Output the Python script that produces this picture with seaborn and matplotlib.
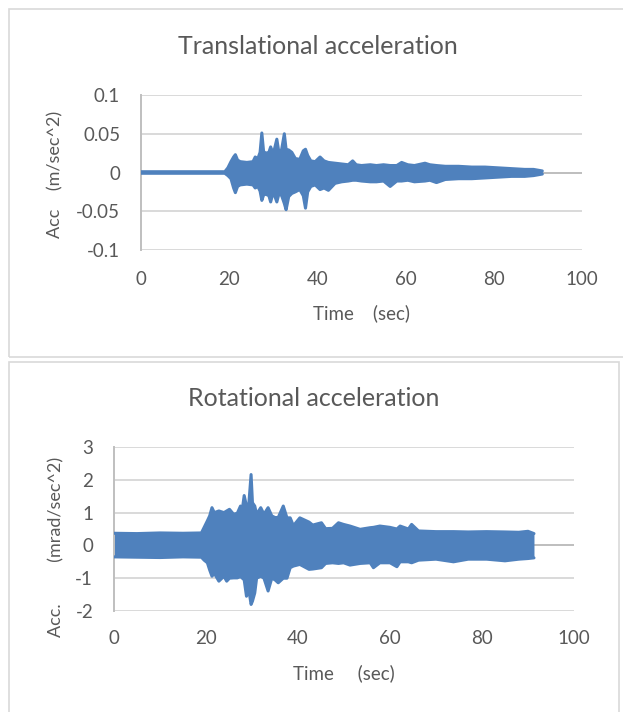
import matplotlib
matplotlib.use("Agg")
import matplotlib.pyplot as plt
import seaborn as sns
from matplotlib.patches import Rectangle

# Envelope of the translational record (m/sec^2)
t_trans = [0, 19.0, 19.7, 20.4, 21.0, 21.4, 21.9, 22.5, 24.0, 25.4, 25.9, 26.5, 27.0, 27.4, 27.8,
           28.3, 29.0, 29.4, 30.0, 30.8, 31.3, 31.9, 32.5, 32.9, 33.5, 34.2, 35.0, 36.0, 36.8,
           37.3, 37.8, 38.5, 39.5, 40.6, 41.5, 42.5, 44.0, 45.5, 47.0, 48.0, 48.8, 50, 52, 53.4,
           55, 56.5, 58, 59.1, 60.5, 62, 64.4, 65.5, 67, 69, 72, 75, 78, 81, 84, 87, 89, 91]
up_trans = [0.001, 0.001, 0.006, 0.014, 0.020, 0.023, 0.016, 0.014, 0.013, 0.014, 0.020, 0.018,
            0.026, 0.051, 0.027, 0.025, 0.026, 0.033, 0.024, 0.043, 0.025, 0.030, 0.050, 0.030,
            0.029, 0.026, 0.018, 0.017, 0.028, 0.030, 0.022, 0.015, 0.014, 0.020, 0.015, 0.013,
            0.012, 0.011, 0.010, 0.015, 0.010, 0.009, 0.010, 0.009, 0.010, 0.009, 0.009, 0.013,
            0.010, 0.009, 0.012, 0.010, 0.009, 0.008, 0.008, 0.007, 0.007, 0.006, 0.005, 0.004,
            0.004, 0.002]
lo_trans = [-0.001, -0.001, -0.004, -0.008, -0.020, -0.026, -0.018, -0.016, -0.015, -0.016,
            -0.020, -0.018, -0.024, -0.036, -0.029, -0.028, -0.030, -0.038, -0.025, -0.038,
            -0.027, -0.030, -0.040, -0.048, -0.031, -0.027, -0.025, -0.022, -0.030, -0.046,
            -0.025, -0.018, -0.016, -0.022, -0.020, -0.023, -0.014, -0.012, -0.011, -0.010,
            -0.010, -0.011, -0.012, -0.012, -0.011, -0.018, -0.011, -0.011, -0.010, -0.012,
            -0.011, -0.010, -0.013, -0.009, -0.008, -0.008, -0.007, -0.006, -0.005, -0.005,
            -0.004, -0.002]

# Envelope of the rotational record (mrad/sec^2)
t_rot = [0, 5, 10, 15, 19.0, 19.6, 20.3, 20.8, 21.3, 21.8, 22.8, 23.9, 24.5, 25.1, 26.0, 26.8,
         27.5, 27.9, 28.3, 28.8, 29.3, 29.8, 30.1, 30.6, 31.0, 31.9, 32.6, 33.5, 34.3, 35.0,
         35.7, 36.8, 37.6, 38.3, 39.0, 40.4, 42.4, 43.2, 45.1, 46.0, 47.5, 48.8, 49.9, 51.3,
         53.5, 55.7, 56.4, 57.8, 60.0, 61.5, 62.2, 64.0, 64.7, 66.2, 70, 73.8, 77, 81, 85, 88,
         90, 91.3]
up_rot = [0.37, 0.36, 0.38, 0.37, 0.38, 0.55, 0.75, 0.90, 1.15, 1.00, 1.05, 1.00, 1.05, 1.10,
          0.95, 0.98, 1.20, 1.10, 1.52, 1.20, 1.25, 2.16, 1.30, 1.20, 0.95, 1.15, 0.95, 1.15,
          0.90, 0.85, 0.85, 1.20, 0.84, 0.84, 0.60, 0.84, 0.71, 0.62, 0.69, 0.51, 0.52, 0.69,
          0.64, 0.59, 0.49, 0.54, 0.55, 0.59, 0.55, 0.50, 0.59, 0.50, 0.64, 0.44, 0.42, 0.42,
          0.41, 0.42, 0.41, 0.40, 0.43, 0.36]
lo_rot = [-0.35, -0.36, -0.37, -0.35, -0.36, -0.45, -0.53, -0.75, -0.94, -0.85, -1.09, -0.94,
          -1.09, -1.00, -0.99, -0.99, -0.95, -1.00, -1.05, -1.55, -1.35, -1.80, -1.70, -1.45,
          -1.00, -0.94, -1.00, -1.39, -1.00, -1.05, -1.14, -1.00, -1.00, -0.68, -0.63, -0.58,
          -0.73, -0.72, -0.68, -0.55, -0.53, -0.55, -0.53, -0.60, -0.55, -0.53, -0.68, -0.53,
          -0.53, -0.65, -0.50, -0.50, -0.53, -0.45, -0.42, -0.50, -0.42, -0.42, -0.47, -0.42,
          -0.40, -0.38]

x_ticks = [0, 20, 40, 60, 80, 100]
y_ticks_trans = [-0.1, -0.05, 0, 0.05, 0.1]
y_labels_trans = ["-0.1", "-0.05", "0", "0.05", "0.1"]
y_ticks_rot = [-2, -1, 0, 1, 2, 3]
y_labels_rot = ["-2", "-1", "0", "1", "2", "3"]

sns.set_style("white")
plt.rcParams['font.family'] = ['Lato', 'DejaVu Sans']

BLUE = "#4F81BD"
TXT = "#595959"
GRID = "#D9D9D9"
AXIS = "#BFBFBF"

fig = plt.figure(figsize=(6.23, 7.12), dpi=100)

# chart frames
fig.patches.append(Rectangle((9 / 623, 1 - 357 / 712), 640 / 623, 348 / 712,
                             transform=fig.transFigure, fill=False, ec=GRID, lw=1.2))
fig.patches.append(Rectangle((9 / 623, -0.05), 610 / 623, 1 - 362 / 712 + 0.05,
                             transform=fig.transFigure, fill=False, ec=GRID, lw=1.2))

ax1 = fig.add_axes([141 / 623, 1 - 250 / 712, 441 / 623, 155 / 712])
ax2 = fig.add_axes([114 / 623, 1 - 611 / 712, 460 / 623, 164 / 712])


def style(ax, yt, yl, ylim, ylabel, pad_x, lab_x, lab_y, xl_y, xlabel):
    ax.set_xlim(0, 100)
    ax.set_ylim(*ylim)
    ax.set_xticks(x_ticks)
    ax.set_xticklabels([str(v) for v in x_ticks])
    ax.set_yticks(yt)
    ax.set_yticklabels(yl)
    ax.tick_params(length=0, labelsize=13.5, labelcolor=TXT)
    ax.tick_params(axis="x", pad=pad_x)
    ax.tick_params(axis="y", pad=15)
    ax.grid(axis="y", color=GRID, lw=1.4, zorder=0)
    ax.grid(axis="x", visible=False)
    for s in ["top", "right", "bottom"]:
        ax.spines[s].set_visible(False)
    ax.spines["left"].set_color(AXIS)
    ax.spines["left"].set_linewidth(1.4)
    ax.axhline(0, color=AXIS, lw=1.4, zorder=1)
    ax.set_ylabel(ylabel, color=TXT, fontsize=13, ha="center", va="center")
    ax.yaxis.set_label_coords(lab_x, lab_y)
    ax.set_xlabel(xlabel, color=TXT, fontsize=13.5, ha="center", va="center")
    ax.xaxis.set_label_coords(0.5, xl_y)


def draw(ax, t, up, lo):
    ax.fill_between(t, lo, up, color=BLUE, lw=0, zorder=2)
    sns.lineplot(x=t, y=up, ax=ax, color=BLUE, lw=2.2, zorder=3)
    sns.lineplot(x=t, y=lo, ax=ax, color=BLUE, lw=2.2, zorder=3)


draw(ax1, t_trans, up_trans, lo_trans)
draw(ax2, t_rot, up_rot, lo_rot)

style(ax1, y_ticks_trans, y_labels_trans, (-0.1, 0.1), "Acc    (m/sec^2)",
      15, -0.195, 0.49, -0.41, "Time    (sec)")
style(ax2, y_ticks_rot, y_labels_rot, (-2, 3), "Acc.         (mrad/sec^2)",
      14, -0.125, 0.39, -0.38, "Time     (sec)")

fig.text(318 / 623, 1 - 47 / 712, "Translational acceleration", ha="center", va="center",
         fontsize=18, color=TXT)
fig.text(314 / 623, 1 - 398 / 712, "Rotational acceleration", ha="center", va="center",
         fontsize=18, color=TXT)

fig.savefig("out.png", dpi=100)
